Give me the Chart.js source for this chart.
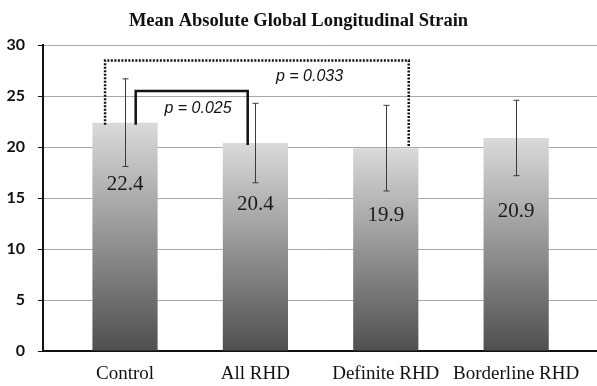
<!DOCTYPE html>
<html>
<head>
<meta charset="utf-8">
<script src="https://cdn.jsdelivr.net/npm/chart.js@4/dist/chart.umd.min.js"></script>
<style>
  html, body { margin: 0; padding: 0; background: #fff; }
  #wrap { width: 597px; height: 386px; }
</style>
</head>
<body>
<div id="wrap"><canvas id="strainChart"></canvas></div>
<script>
// valores
const categorias = ["Control", "All RHD", "Definite RHD", "Borderline RHD"];
const medias = [22.4, 20.4, 19.9, 20.9];
const desvios = [4.3, 3.9, 4.2, 3.7];
const etiquetas = ["22.4", "20.4", "19.9", "20.9"];
const ticksY = [0, 5, 10, 15, 20, 25, 30];
const pValores = ["p = 0.025", "p = 0.033"];

// donde va cada numero dentro de la barra (en unidades del eje y)
const alturaEtiqueta = [16.3, 14.4, 13.3, 13.65];

// corchetes de significancia
const corchetes = [
    { desde: 0, hasta: 1, dx: [0.082, -0.059], yTop: 25.5, yIzq: 22.2, yDer: 20.2, punteado: false,
      texto: pValores[0], tx: 0.56, ty: 23.8 },
    { desde: 0, hasta: 2, dx: [-0.153, 0.176], yTop: 28.5, yIzq: 22.2, yDer: 20.0, punteado: true,
      texto: pValores[1], tx: 1.415, ty: 26.9 }
];

const extrasPlugin = {
    id: "extras",
    afterDatasetsDraw(chart) {
        const ctx = chart.ctx;
        const x = chart.scales.x;
        const y = chart.scales.y;
        ctx.save();

        // barras de error
        ctx.strokeStyle = "#3a3a3a";
        ctx.lineWidth = 1;
        medias.forEach((m, i) => {
            const px = Math.round(x.getPixelForValue(i)) + 0.5;
            const yTop = y.getPixelForValue(m + desvios[i]);
            const yBot = y.getPixelForValue(m - desvios[i]);
            ctx.beginPath();
            ctx.moveTo(px, yTop);
            ctx.lineTo(px, yBot);
            ctx.moveTo(px - 3, yTop);
            ctx.lineTo(px + 3, yTop);
            ctx.moveTo(px - 3, yBot);
            ctx.lineTo(px + 3, yBot);
            ctx.stroke();
        });

        // numeros dentro de las barras
        ctx.fillStyle = "#1a1a1a";
        ctx.font = "21px 'Liberation Serif'";
        ctx.textAlign = "center";
        ctx.textBaseline = "middle";
        etiquetas.forEach((t, i) => {
            ctx.fillText(t, x.getPixelForValue(i), y.getPixelForValue(alturaEtiqueta[i]));
        });

        // corchetes
        corchetes.forEach(c => {
            const x1 = x.getPixelForValue(c.desde + c.dx[0]);
            const x2 = x.getPixelForValue(c.hasta + c.dx[1]);
            ctx.strokeStyle = "#111";
            ctx.lineWidth = 2.5;
            ctx.setLineDash(c.punteado ? [2, 1.5] : []);
            ctx.beginPath();
            ctx.moveTo(x1, y.getPixelForValue(c.yIzq));
            ctx.lineTo(x1, y.getPixelForValue(c.yTop));
            ctx.lineTo(x2, y.getPixelForValue(c.yTop));
            ctx.lineTo(x2, y.getPixelForValue(c.yDer));
            ctx.stroke();
            ctx.setLineDash([]);

            ctx.fillStyle = "#111";
            ctx.font = "italic 16px 'Liberation Sans'";
            ctx.fillText(c.texto, x.getPixelForValue(c.tx), y.getPixelForValue(c.ty));
        });
        ctx.restore();
    }
};

function degradado(context) {
    const chart = context.chart;
    if (!chart.chartArea || !context.raw) return "#999";
    const y = chart.scales.y;
    const top = y.getPixelForValue(context.raw.y);
    const bottom = y.getPixelForValue(0);
    const g = chart.ctx.createLinearGradient(0, top, 0, bottom);
    g.addColorStop(0, "#dadada");
    g.addColorStop(1, "#4f4f4f");
    return g;
}

const ctxStrain = document.getElementById("strainChart").getContext("2d");
new Chart(ctxStrain, {
    type: "bar",
    data: {
        datasets: [{
            data: medias.map((m, i) => ({ x: i, y: m })),
            backgroundColor: degradado,
            borderWidth: 0,
            barPercentage: 0.5,
            categoryPercentage: 1
        }]
    },
    options: {
        responsive: true,
        maintainAspectRatio: false,
        animation: false,
        layout: { padding: { left: 0, right: 0, top: 0, bottom: 0 } },
        plugins: {
            legend: { display: false },
            tooltip: { enabled: false },
            title: {
                display: true,
                text: "Mean Absolute Global Longitudinal Strain",
                color: "#111",
                font: { family: "'Liberation Serif'", size: 18.5, weight: "bold" },
                padding: { top: 10, bottom: 13 }
            }
        },
        scales: {
            x: {
                type: "linear",
                offset: false,
                min: -0.629,
                max: 3.62,
                afterBuildTicks: s => { s.ticks = categorias.map((c, i) => ({ value: i })); },
                afterFit: s => { s.height = 35; },
                ticks: {
                    autoSkip: false,
                    maxRotation: 0,
                    padding: 12,
                    color: "#111",
                    font: { family: "'Liberation Serif'", size: 19 },
                    callback: v => categorias[v]
                },
                grid: { display: false, drawTicks: false, offset: false },
                border: { display: true, color: "#111", width: 2 }
            },
            y: {
                min: 0,
                max: 30,
                afterBuildTicks: s => { s.ticks = ticksY.map(v => ({ value: v })); },
                afterFit: s => { s.width = 43; },
                ticks: {
                    padding: 13,
                    color: "#111",
                    font: { family: "Lato", size: 16, weight: "bold" }
                },
                grid: { color: "#a8a8a8", lineWidth: 1, tickColor: "#111", tickLength: 5 },
                border: { display: true, color: "#111", width: 2 }
            }
        }
    },
    plugins: [extrasPlugin]
});
</script>
</body>
</html>
